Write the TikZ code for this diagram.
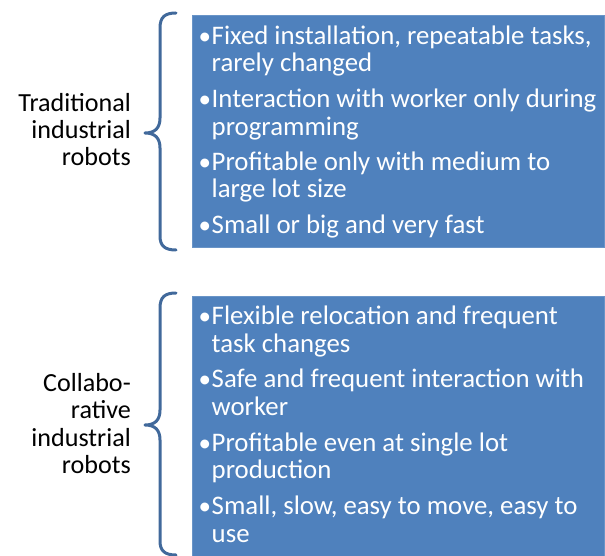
\documentclass[tikz,border=0pt]{standalone}
\usepackage{fontspec}
\setmainfont{Carlito}
\definecolor{boxblue}{HTML}{4F81BD}
\definecolor{braceblue}{HTML}{41699B}
\begin{document}
\begin{tikzpicture}[x=1pt,y=-1pt,
  panel/.style={fill=boxblue, draw=boxblue!85!white, line width=0.6pt},
  itemtext/.style={anchor=base west, inner sep=0pt, text=white, font=\fontsize{26.8}{27}\selectfont},
  bul/.style={anchor=base west, inner sep=0pt, text=white, font=\fontsize{25}{27}\selectfont},
  lefttext/.style={anchor=base east, inner sep=0pt, text=black, font=\fontsize{26.1}{27}\selectfont},
  bracestyle/.style={draw=braceblue, line width=3pt, line cap=round, line join=round}]
\useasboundingbox (0,0) rectangle (605,556);
% boxes
\path[panel] (192,15) rectangle (604,247);
\path[panel] (192,296) rectangle (604,556);
% braces
\draw[bracestyle] (176,13) .. controls (165,13) and (160,17) .. (160,28) -- (160,118)
  .. controls (160,128) and (155,133) .. (145,133)
  .. controls (155,133) and (160,138) .. (160,148) -- (160,236)
  .. controls (160,246) and (165,250) .. (176,250);
\draw[bracestyle] (176,293) .. controls (165,293) and (160,297) .. (160,308) -- (160,410)
  .. controls (160,420) and (155,425) .. (145,425)
  .. controls (155,425) and (160,430) .. (160,440) -- (160,541)
  .. controls (160,551) and (165,555) .. (176,555);
% left labels
\node[lefttext] (t1) at (131,111.5) {Traditional};
\node[lefttext] (t2) at (131,138.5) {industrial};
\node[lefttext] (t3) at (131,165.5) {robots};
\node[lefttext] (c1) at (131,391.5) {Collabo-};
\node[lefttext] (c2) at (131,418.5) {rative};
\node[lefttext] (c3) at (131,446) {industrial};
\node[lefttext] (c4) at (131,473) {robots};
% box 1
\node[bul] (b1a) at (198.5,44.3) {•};
\node[itemtext] (a1) at (211.5,44.3) {Fixed installation, repeatable tasks,};
\node[itemtext] (a2) at (211.5,71.8) {rarely changed};
\node[bul] (b1b) at (198.5,107.8) {•};
\node[itemtext] (a3) at (211.5,107.8) {Interaction with worker only during};
\node[itemtext] (a4) at (211.5,135.2) {programming};
\node[bul] (b1c) at (198.5,170.5) {•};
\node[itemtext] (a5) at (211.5,170.5) {Profitable only with medium to};
\node[itemtext] (a6) at (211.5,197.8) {large lot size};
\node[bul] (b1d) at (198.5,233.3) {•};
\node[itemtext] (a7) at (211.5,233.3) {Small or big and very fast};
% box 2
\node[bul] (b2a) at (198.5,324.3) {•};
\node[itemtext] (d1) at (211.5,324.3) {Flexible relocation and frequent};
\node[itemtext] (d2) at (211.5,352) {task changes};
\node[bul] (b2b) at (198.5,387.7) {•};
\node[itemtext] (d3) at (211.5,387.7) {Safe and frequent interaction with};
\node[itemtext] (d4) at (211.5,415.3) {worker};
\node[bul] (b2c) at (198.5,451) {•};
\node[itemtext] (d5) at (211.5,451) {Profitable even at single lot};
\node[itemtext] (d6) at (211.5,478.7) {production};
\node[bul] (b2d) at (198.5,514.3) {•};
\node[itemtext] (d7) at (211.5,514.3) {Small, slow, easy to move, easy to};
\node[itemtext] (d8) at (211.5,542.5) {use};
\end{tikzpicture}
\end{document}
